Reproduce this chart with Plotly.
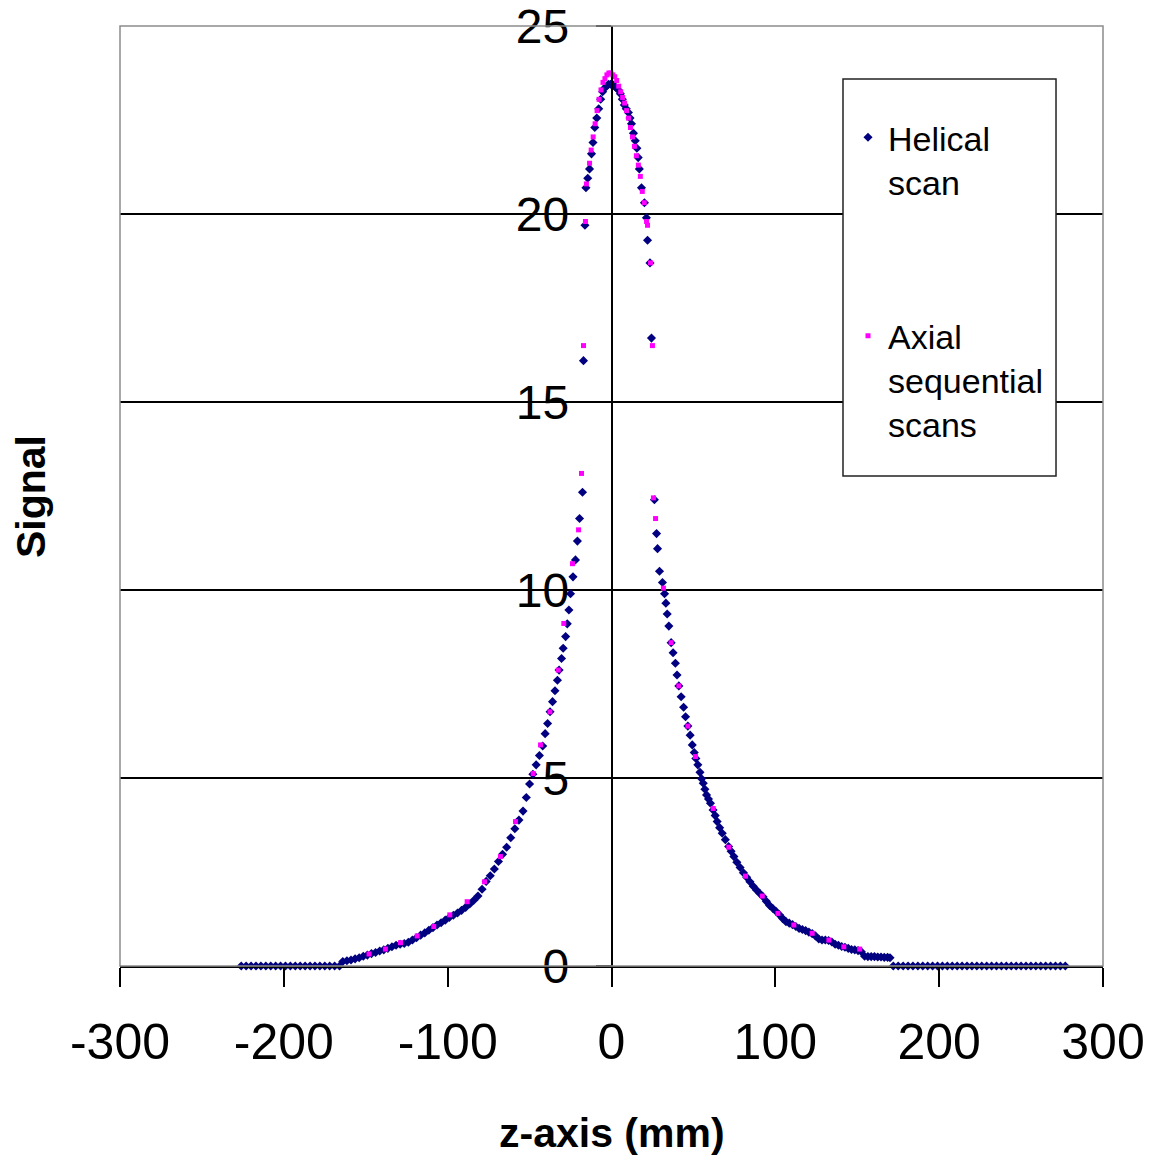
import plotly.graph_objects as go

# ---- Data ----
hel_z = [
    -226, -223, -220, -217, -214, -211, -208, -205, -202, -199,
    -196, -193, -190, -187, -184, -181, -178, -175, -172, -169,
    -166, -164, -161.5, -159, -156.5, -154, -151.5, -149, -146.5, -144,
    -141.5, -139, -136.5, -134, -131.5, -129, -126.5, -124, -121.5, -119,
    -116.5, -114, -111.5, -109, -106.5, -104, -101.5, -99, -96.5, -94,
    -91.5, -89, -86.5, -84, -81.5, -79, -76.5, -74, -71.5, -69,
    -66.5, -64, -61.5, -59, -56.5, -54, -52, -50, -48, -46,
    -44, -42, -40.5, -39, -37.5, -36, -34.5, -33, -32, -30.5,
    -29.5, -28, -27, -26, -25, -23.5, -22, -20.8, -19.5, -17.7,
    -17.1, -16.2, -15.6, -14.5, -13.4, -12.2, -11.3, -10.2, -9, -7.8,
    -6.6, -5.4, -4.2, -3, -1.8, -0.6, 0.6, 1.8, 3, 4.2,
    5.4, 6.6, 7.8, 9, 10.3, 11.3, 12.2, 13.4, 14.5, 15.5,
    16.3, 17, 18.3, 20.1, 21.3, 22, 23.5, 24.4, 26.2, 27.5,
    28.1, 29.3, 31.1, 32.4, 33.2, 34, 35, 36.4, 37.6, 39,
    40, 41.1, 42.5, 44, 45.2, 46.6, 48, 49.3, 50.5, 51.5,
    52.7, 54, 55, 56, 57, 58, 59.2, 60.4, 62, 63.3,
    64.5, 66, 67.6, 69.5, 71.5, 73, 74.7, 76.5, 78.5, 80.5,
    82.5, 84.5, 86.5, 88.5, 90.5, 92.5, 94.5, 96.5, 98.5, 100.5,
    102.5, 104.5, 106.5, 108.5, 110.5, 112.5, 114.5, 116.5, 118.5, 120.5,
    122.5, 124.5, 126.5, 128.5, 130.5, 132.5, 134.5, 136.5, 138.5, 140.5,
    142.5, 144.5, 146.5, 148.5, 150.5, 152.5, 154.5, 156.5, 158.5, 160.5,
    162.5, 164.5, 166.5, 168.5, 170, 172, 175, 178, 181, 184,
    187, 190, 193, 196, 199, 202, 205, 208, 211, 214,
    217, 220, 223, 226, 229, 232, 235, 238, 241, 244,
    247, 250, 253, 256, 259, 262, 265, 268, 271, 274,
    277,
]
hel_signal = [
    0, 0, 0, 0, 0, 0, 0, 0, 0, 0,
    0, 0, 0, 0, 0, 0, 0, 0, 0, 0,
    0, 0.12, 0.14, 0.16, 0.19, 0.22, 0.26, 0.29, 0.33, 0.36,
    0.40, 0.43, 0.47, 0.51, 0.55, 0.58, 0.60, 0.63, 0.69, 0.75,
    0.82, 0.88, 0.95, 1.02, 1.09, 1.15, 1.22, 1.29, 1.35, 1.41,
    1.48, 1.56, 1.65, 1.75, 1.86, 2.04, 2.25, 2.40, 2.58, 2.78,
    2.97, 3.16, 3.41, 3.65, 3.88, 4.12, 4.48, 4.84, 5.10, 5.35,
    5.60, 5.85, 6.18, 6.45, 6.76, 7.03, 7.32, 7.60, 7.87, 8.18,
    8.45, 8.76, 9.10, 9.47, 9.90, 10.35, 10.80, 11.30, 11.90, 12.60,
    16.10, 19.70, 20.70, 20.95, 21.20, 21.60, 21.90, 22.30, 22.55, 22.80,
    23.05, 23.25, 23.35, 23.40, 23.45, 23.45, 23.45, 23.40, 23.35, 23.30,
    23.20, 23.05, 22.90, 22.80, 22.70, 22.55, 22.40, 22.15, 21.95, 21.75,
    21.50, 21.20, 20.70, 20.30, 19.90, 19.30, 18.70, 16.70, 12.40, 11.50,
    11.10, 10.50, 10.20, 9.90, 9.65, 9.36, 9.04, 8.60, 8.33, 8.05,
    7.74, 7.45, 7.16, 6.88, 6.63, 6.38, 6.14, 5.88, 5.68, 5.52,
    5.35, 5.15, 4.98, 4.86, 4.70, 4.55, 4.44, 4.33, 4.15, 4.00,
    3.84, 3.68, 3.53, 3.36, 3.18, 3.05, 2.91, 2.76, 2.62, 2.48,
    2.36, 2.24, 2.12, 2.02, 1.93, 1.84, 1.72, 1.61, 1.53, 1.45,
    1.36, 1.26, 1.18, 1.14, 1.10, 1.05, 1.00, 0.97, 0.94, 0.90,
    0.86, 0.80, 0.72, 0.69, 0.69, 0.68, 0.64, 0.58, 0.55, 0.52,
    0.50, 0.47, 0.44, 0.43, 0.41, 0.38, 0.26, 0.25, 0.25, 0.25,
    0.24, 0.24, 0.23, 0.23, 0.22, 0, 0, 0, 0, 0,
    0, 0, 0, 0, 0, 0, 0, 0, 0, 0,
    0, 0, 0, 0, 0, 0, 0, 0, 0, 0,
    0, 0, 0, 0, 0, 0, 0, 0, 0, 0,
    0,
]

ax_z = [
    -148, -138, -128.8, -118.6, -108.5, -98.7, -88.1, -77.5, -67.8, -58.6,
    -47.8, -43.3, -37.6, -32.5, -29.1, -23.8, -20.1, -18.3, -17.1, -15.9,
    -15.3, -13.4, -12.4, -11.2, -10, -8.8, -7.6, -6.4, -5.2, -4,
    -2.8, -1.6, -0.4, 0.8, 2, 3.2, 4.4, 5.6, 6.8, 8,
    9.2, 10.4, 11.6, 12.8, 14, 15.2, 16.4, 17.6, 18.8, 20,
    21.4, 22, 23.8, 25, 25.6, 26.9, 31.7, 36.4, 41.1, 46.6,
    51.3, 62.1, 71.6, 81.8, 92, 101.6, 111.3, 122.5, 132.7, 141.8,
    151.5,
]
ax_signal = [
    0.32, 0.45, 0.62, 0.80, 1.05, 1.36, 1.71, 2.24, 2.91, 3.84,
    5.12, 5.88, 6.76, 7.87, 9.11, 10.7, 11.6, 13.1, 16.5, 19.8,
    20.8, 21.35, 21.7, 22.05, 22.4, 22.75, 23.05, 23.3, 23.5, 23.6,
    23.7, 23.75, 23.75, 23.7, 23.65, 23.55, 23.4, 23.25, 23.1, 22.95,
    22.75, 22.55, 22.3, 22.05, 21.8, 21.55, 21.3, 21.0, 20.6, 20.3,
    19.8, 19.7, 18.7, 16.5, 12.45, 11.9, 10.05, 8.6, 7.45, 6.38,
    5.57, 4.19, 3.16, 2.39, 1.86, 1.40, 1.09, 0.87, 0.69, 0.51,
    0.45,
]

x_ticks = [-300, -200, -100, 0, 100, 200, 300]
x_tick_labels = ["-300", "-200", "-100", "0", "100", "200", "300"]
y_ticks = [0, 5, 10, 15, 20, 25]
y_tick_labels = ["0", "5", "10", "15", "20", "25"]

assert len(hel_z) == len(hel_signal)
assert len(ax_z) == len(ax_signal)

FONT = "Liberation Sans, Arial, sans-serif"

fig = go.Figure()
fig.add_trace(go.Scatter(
    x=hel_z, y=hel_signal, mode="markers", name="Helical<br>scan",
    marker=dict(symbol="diamond", size=7, color="#000080", line=dict(width=0)),
    cliponaxis=False, legendgroup="a",
))
fig.add_trace(go.Scatter(
    x=ax_z, y=ax_signal, mode="markers", name="Axial<br>sequential<br>scans",
    marker=dict(symbol="square", size=5, color="#FF00FF", line=dict(width=0)),
    cliponaxis=False, legendgroup="b",
))

fig.update_layout(
    width=1153, height=1150,
    margin=dict(l=112, r=58, t=18, b=192, autoexpand=False),
    paper_bgcolor="white", plot_bgcolor="white",
    font=dict(family=FONT, color="black"),
    showlegend=True,
    legend=dict(
        x=0.7406, y=0.912, xanchor="left", yanchor="top",
        bgcolor="rgba(0,0,0,0)", borderwidth=0,
        font=dict(size=34, family=FONT, color="black"),
        valign="top", traceorder="grouped", tracegroupgap=107,
        itemsizing="trace",
    ),
    xaxis=dict(
        range=[-300, 300], tickmode="array", tickvals=x_ticks, ticktext=x_tick_labels,
        ticks="outside", ticklen=19, tickwidth=1.5, tickcolor="black",
        showline=True, linecolor="black", linewidth=1.5,
        showgrid=False, zeroline=False, anchor="y", automargin=False,
        tickfont=dict(size=50, family=FONT, color="black"),
        ticklabelstandoff=12,
    ),
    yaxis=dict(
        range=[0, 25], tickmode="array", tickvals=y_ticks, ticktext=y_tick_labels,
        anchor="free", position=0.5, automargin=False,
        ticks="outside", ticklen=15, tickwidth=1.5, tickcolor="black",
        showline=True, linecolor="black", linewidth=1.5,
        showgrid=True, gridcolor="black", gridwidth=1.5, zeroline=False,
        tickfont=dict(size=48, family=FONT, color="black"),
        ticklabelstandoff=17, ticklabeloverflow="allow",
    ),
)

# plot-area border (grey)
fig.add_shape(type="rect", xref="paper", yref="paper", x0=0, x1=1, y0=0, y1=1,
              line=dict(color="#8c8c8c", width=1.5), fillcolor="rgba(0,0,0,0)", layer="above")
# legend box
fig.add_shape(type="rect", xref="paper", yref="paper", x0=0.7355, x1=0.9522, y0=0.5213, y1=0.9436,
              line=dict(color="#222222", width=1.5), fillcolor="white", layer="above")

fig.add_annotation(text="<b>Signal</b>", x=-0.0905, y=0.4989, xref="paper", yref="paper",
                   showarrow=False, textangle=-90, xanchor="center", yanchor="middle",
                   font=dict(size=41, family=FONT, color="black"))
fig.add_annotation(text="<b>z-axis (mm)</b>", x=0.5, y=-0.1777, xref="paper", yref="paper",
                   showarrow=False, xanchor="center", yanchor="middle",
                   font=dict(size=41, family=FONT, color="black"))

fig.write_html("out.html")
